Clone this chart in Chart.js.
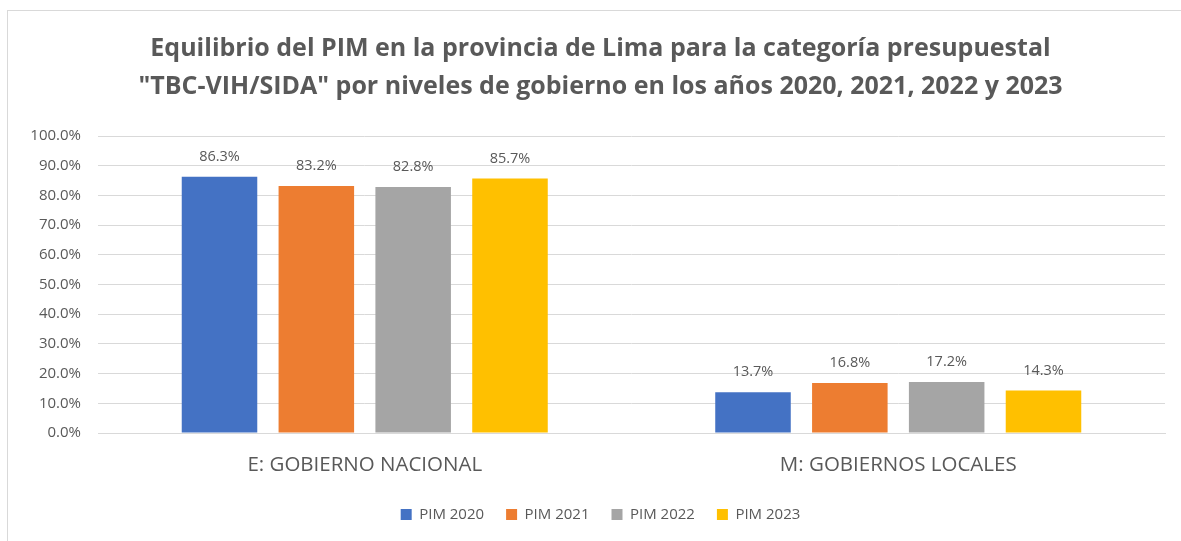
<!doctype html>
<html lang="es">
  <head>
    <meta charset="UTF-8" />
    <title>Equilibrio del PIM - TBC-VIH/SIDA</title>
    <script src="https://cdn.jsdelivr.net/npm/chart.js"></script>
    <style>
      html, body { margin: 0; padding: 0; background: #fff; }
      #wrap { position: relative; width: 1181px; height: 541px; }
      #frame {
        position: absolute; left: 7px; top: 10px; right: 0; bottom: 0;
        border-top: 1px solid #d9d9d9; border-left: 1px solid #d9d9d9;
      }
      canvas { position: absolute; left: 0; top: 0; }
    </style>
  </head>
  <body>
    <div id="wrap">
      <div id="frame"></div>
      <canvas id="pimChart" width="1181" height="541"></canvas>
    </div>
    <script>
      const categories = ["E: GOBIERNO NACIONAL", "M: GOBIERNOS LOCALES"];
      const seriesNames = ["PIM 2020", "PIM 2021", "PIM 2022", "PIM 2023"];
      const pim2020 = [86.3, 13.7];
      const pim2021 = [83.2, 16.8];
      const pim2022 = [82.8, 17.2];
      const pim2023 = [85.7, 14.3];
      const yTicks = [0, 10, 20, 30, 40, 50, 60, 70, 80, 90, 100];

      const colors = ["#4472C4", "#ED7D31", "#A5A5A5", "#FFC000"];
      const textColor = "#595959";
      const fontFamily = "'Open Sans', sans-serif";

      // draw the value above each bar
      const valueLabels = {
        id: "valueLabels",
        afterDatasetsDraw(chart) {
          const ctx = chart.ctx;
          ctx.save();
          ctx.font = "14.5px " + fontFamily;
          ctx.fillStyle = textColor;
          ctx.textAlign = "center";
          ctx.textBaseline = "middle";
          chart.data.datasets.forEach((ds, i) => {
            chart.getDatasetMeta(i).data.forEach((bar, j) => {
              ctx.fillText(ds.data[j].toFixed(1) + "%", bar.x, bar.y - 20);
            });
          });
          ctx.restore();
        },
      };

      new Chart(document.getElementById("pimChart"), {
        type: "bar",
        data: {
          labels: categories,
          datasets: [pim2020, pim2021, pim2022, pim2023].map((d, i) => ({
            label: seriesNames[i],
            data: d,
            backgroundColor: colors[i],
            barPercentage: 0.78,
            categoryPercentage: 0.726,
          })),
        },
        options: {
          responsive: false,
          animation: false,
          devicePixelRatio: 1,
          layout: { padding: { left: 20, right: 0, top: 10, bottom: 9 } },
          plugins: {
            title: {
              display: true,
              text: [
                "Equilibrio del PIM en la provincia de Lima para la categoría presupuestal",
                '"TBC-VIH/SIDA" por niveles de gobierno en los años 2020, 2021, 2022 y 2023',
              ],
              color: textColor,
              font: { family: fontFamily, size: 25, weight: "bold", lineHeight: 1.52 },
              padding: { top: 20, bottom: 30 },
            },
            legend: {
              position: "bottom",
              labels: {
                color: textColor,
                font: { family: fontFamily, size: 15 },
                boxWidth: 11,
                boxHeight: 11,
                padding: 22,
              },
            },
            tooltip: { enabled: false },
          },
          scales: {
            x: {
              grid: { display: false, drawTicks: false },
              border: { color: "#d9d9d9" },
              ticks: {
                color: textColor,
                font: { family: fontFamily, size: 20.5 },
                padding: 20,
              },
              afterFit(s) { s.height = 52; },
            },
            y: {
              min: 0,
              max: 100,
              afterBuildTicks(s) { s.ticks = yTicks.map((v) => ({ value: v })); },
              grid: { color: "#d9d9d9", drawTicks: false },
              border: { display: false },
              ticks: {
                color: textColor,
                font: { family: fontFamily, size: 15 },
                padding: 17,
                callback: (v) => v.toFixed(1) + "%",
              },
              afterFit(s) { s.width = 78; },
            },
            // empty right margin so the plot ends where the reference does
            spacer: {
              type: "linear",
              position: "right",
              grid: { display: false, drawTicks: false },
              border: { display: false },
              ticks: { display: false },
              afterFit(s) { s.width = 16; },
            },
          },
        },
        plugins: [valueLabels],
      });
    </script>
  </body>
</html>
